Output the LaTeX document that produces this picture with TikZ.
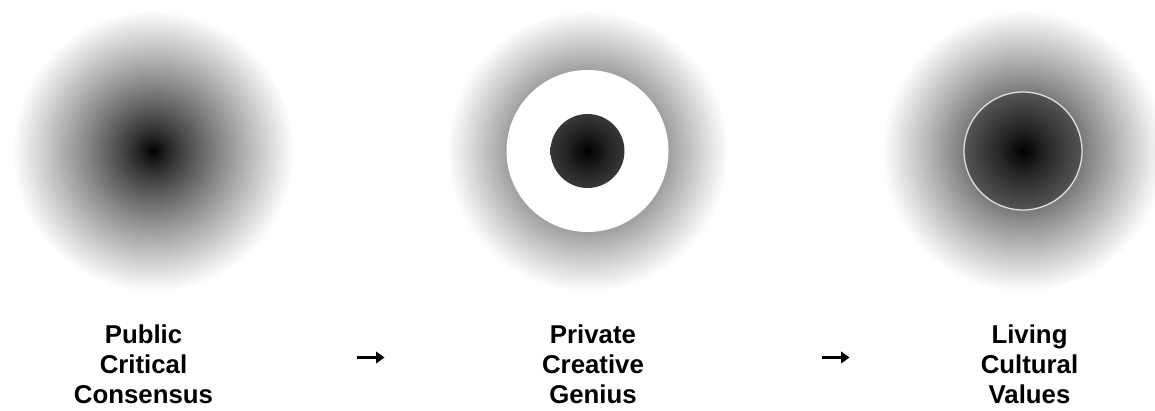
\documentclass[tikz,border=0pt]{standalone}
\usepackage{fontspec}
\newfontfamily\labfont{Liberation Sans}
\usetikzlibrary{arrows.meta}
\pgfdeclareradialshading{glow}{\pgfpoint{0bp}{0bp}}{%
color(0bp)=(black);
color(2.5bp)=(black!85.9);
color(5bp)=(black!74.6);
color(7.5bp)=(black!64.1);
color(10bp)=(black!54.1);
color(12.5bp)=(black!44.5);
color(15bp)=(black!35.2);
color(17.5bp)=(black!26.2);
color(20bp)=(black!17.3);
color(22.5bp)=(black!8.6);
color(25bp)=(white);
color(50bp)=(white)}
\tikzset{
  halo/.style={shading=glow},
  lab/.style={anchor=base, inner sep=0pt, font=\labfont\bfseries\fontsize{25.8}{30}\selectfont},
  flow/.style={line width=3pt, -{Triangle[length=8.5pt,width=11.6pt]}},
  ring/.style={draw=white!88!black, line width=1.3pt}
}
\begin{document}
\begin{tikzpicture}[x=1pt,y=1pt]
\useasboundingbox (0,0) rectangle (1155,411);
% centres
\coordinate (c1) at (153,260);
\coordinate (c2) at (587.5,260);
\coordinate (c3) at (1023,260);
% disc 1
\shade[halo] (c1) circle (141);
% disc 2
\shade[halo] (c2) circle (141);
\fill[white] (c2) circle (81);
\begin{scope}
  \clip (c2) circle (37);
  \shade[halo] (c2) circle (218);
\end{scope}
% disc 3
\shade[halo] (c3) circle (141);
\begin{scope}
  \clip (c3) circle (59);
  \shade[halo] (c3) circle (218);
\end{scope}
\draw[ring] (c3) circle (59);
% labels
\node[lab] (l1a) at (143.5,67) {Public};
\node[lab] (l1b) at (143.5,37) {Critical};
\node[lab] (l1c) at (143.5,7) {Consensus};
\node[lab] (l2a) at (593,67) {Private};
\node[lab] (l2b) at (593,37) {Creative};
\node[lab] (l2c) at (593,7) {Genius};
\node[lab] (l3a) at (1029.5,67) {Living};
\node[lab] (l3b) at (1029.5,37) {Cultural};
\node[lab] (l3c) at (1029.5,7) {Values};
% arrows
\coordinate (a1s) at (356.5,53.5);
\coordinate (a1e) at (384.5,53.5);
\coordinate (a2s) at (821.5,53.5);
\coordinate (a2e) at (849.5,53.5);
\draw[flow] (a1s) -- (a1e);
\draw[flow] (a2s) -- (a2e);
\end{tikzpicture}
\end{document}
